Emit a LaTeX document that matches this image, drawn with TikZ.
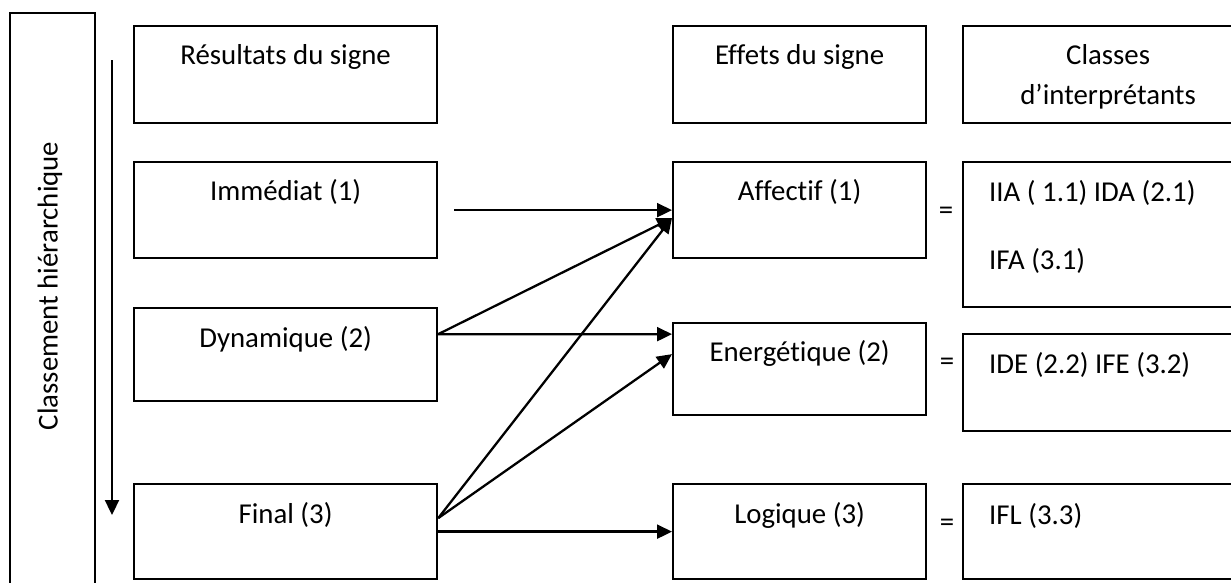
\documentclass[tikz,border=0pt]{standalone}
\usepackage{fontspec}
\setmainfont[Ligatures=NoCommon]{Carlito}
\usetikzlibrary{arrows.meta}

\begin{document}
\begin{tikzpicture}[x=0.02cm,y=-0.02cm,font=\fontsize{16.4}{20}\selectfont,
  box/.style={draw,line width=1.3pt,anchor=north west,inner sep=0pt},
  txt/.style={anchor=base,yshift=-0.8cm},
  txtl/.style={anchor=base west,xshift=0.42cm,yshift=-0.82cm},
  fleche/.style={line width=1.3pt,-{Triangle[length=0.3cm,width=0.28cm]}}]
\useasboundingbox (0,0) rectangle (1231,582);
% classement hierarchique
\node[box,minimum width=1.7cm,minimum height=12cm] (hier) at (9,12) {};
\node[rotate=90] (hiertxt) at (50,286) {Classement hiérarchique};
\coordinate (haut) at (112,60);
\coordinate (bas) at (112,515);
\draw[fleche] (haut) -- (bas);
% resultats du signe
\node[box,minimum width=6.06cm,minimum height=1.94cm,label={[txt]north:Résultats du signe}] (res) at (133,25) {};
\node[box,minimum width=6.06cm,minimum height=1.92cm,label={[txt]north:Immédiat (1)}] (imm) at (133,161) {};
\node[box,minimum width=6.06cm,minimum height=1.86cm,label={[txt]north:Dynamique (2)}] (dyn) at (133,307) {};
\node[box,minimum width=6.06cm,minimum height=1.9cm,label={[txt]north:Final (3)}] (fin) at (133,483) {};
% effets du signe
\node[box,minimum width=5.06cm,minimum height=1.94cm,label={[txt]north:Effets du signe}] (eff) at (672,25) {};
\node[box,minimum width=5.06cm,minimum height=1.92cm,label={[txt]north:Affectif (1)}] (aff) at (672,161) {};
\node[box,minimum width=5.06cm,minimum height=1.84cm,label={[txt]north:Energétique (2)}] (ene) at (672,322) {};
\node[box,minimum width=5.06cm,minimum height=1.9cm,label={[txt]north:Logique (3)}] (log) at (672,483) {};
% classes d'interpretants
\node[box,minimum width=5.8cm,minimum height=1.94cm,label={[txt]north:Classes},label={[txt,yshift=-0.8cm]north:d’interprétants}] (cls) at (962,25) {};
\node[box,minimum width=5.8cm,minimum height=2.9cm,label={[txtl]north west:IIA ( 1.1) IDA (2.1)},label={[txtl,yshift=-1.36cm]north west:IFA (3.1)}] (ia) at (962,161) {};
\node[box,minimum width=5.8cm,minimum height=1.94cm,label={[txtl]north west:IDE (2.2) IFE (3.2)}] (ie) at (962,333) {};
\node[box,minimum width=5.8cm,minimum height=1.9cm,label={[txtl]north west:IFL (3.3)}] (il) at (962,483) {};
\node (eg1) at (946,213) {=};
\node (eg2) at (947,364) {=};
\node (eg3) at (947,525) {=};
% fleches
\draw[fleche] ([xshift=0.32cm]imm.east) -- (aff.west);
\draw[fleche] ([yshift=0.41cm]dyn.east) -- ([yshift=-0.16cm]aff.west);
\draw[fleche] ([yshift=0.41cm]dyn.east) -- ([yshift=0.7cm]ene.west);
\draw[fleche] ([yshift=0.27cm]fin.east) -- ([yshift=-0.16cm]aff.west);
\draw[fleche] ([yshift=0.27cm]fin.east) -- ([yshift=0.3cm]ene.west);
\draw[fleche] (fin.east) -- (log.west);
\end{tikzpicture}
\end{document}
